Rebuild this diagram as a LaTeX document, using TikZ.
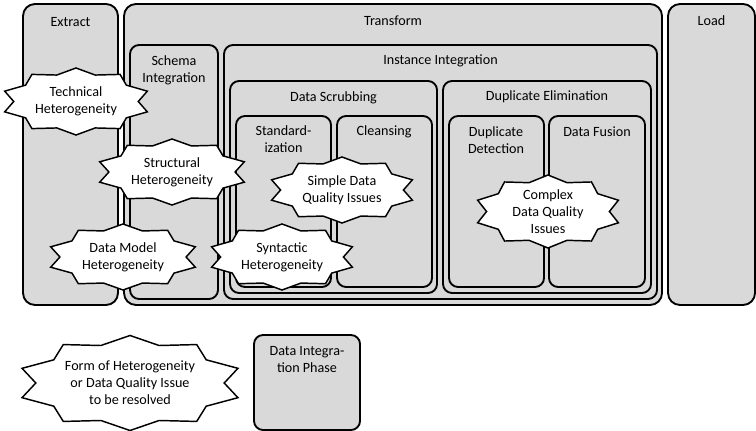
\documentclass[tikz,border=0pt]{standalone}
\usepackage{fontspec}
\setmainfont{Carlito}
\usetikzlibrary{fit}

\begin{document}
\begin{tikzpicture}[x = 0.75pt, y = -0.75pt]
\tikzstyle{PhaseStyle}=[
draw, line width = 1.4pt,
fill = black!15,
rounded corners = 9pt,
inner sep = 0pt]
\tikzstyle{StepStyle}=[PhaseStyle, rounded corners = 6.75pt]
\tikzstyle{LabelStyle}=[
align = center,
inner sep = 0pt,
font = \fontsize{10.6}{12.75}\selectfont]
\tikzstyle{StarStyle}=[
draw, line width = 1.1pt,
fill = white,
line join = miter]
\useasboundingbox (0,0) rectangle (756,431);
% phases
\node[PhaseStyle, fit = {(23,4) (118,305)}] (extract) {};
\node[PhaseStyle, fit = {(124,4) (662,305)}] (transform) {};
\node[PhaseStyle, fit = {(668,4) (755,305)}] (load) {};
\node[StepStyle, fit = {(130,45) (218,299)}] (schema) {};
\node[StepStyle, fit = {(224,45) (657,299)}] (instance) {};
\node[StepStyle, fit = {(230,81) (437,293)}] (scrubbing) {};
\node[StepStyle, fit = {(443,81) (651,293)}] (dupelim) {};
\node[StepStyle, fit = {(236,116) (331,287)}] (standard) {};
\node[StepStyle, fit = {(337,116) (432,287)}] (cleansing) {};
\node[StepStyle, fit = {(449,116) (544,287)}] (detection) {};
\node[StepStyle, fit = {(549,116) (645,287)}] (fusion) {};
\node[StepStyle, fit = {(254,335) (360,430)}] (legendbox) {};
% labels
\node[LabelStyle] (extractlbl) at (70.5,22) {Extract};
\node[LabelStyle] (transformlbl) at (393,21) {Transform};
\node[LabelStyle] (loadlbl) at (711.5,21) {Load};
\node[LabelStyle] (schemalbl) at (174,70) {Schema\\Integration};
\node[LabelStyle] (instancelbl) at (440.5,61) {Instance Integration};
\node[LabelStyle] (scrubbinglbl) at (333.5,98) {Data Scrubbing};
\node[LabelStyle] (dupelimlbl) at (547,97) {Duplicate Elimination};
\node[LabelStyle] (standardlbl) at (283.5,139.5) {Standard-\\ization};
\node[LabelStyle] (cleansinglbl) at (384,132) {Cleansing};
\node[LabelStyle] (detectionlbl) at (496,140.5) {Duplicate\\Detection};
\node[LabelStyle] (fusionlbl) at (597,132) {Data Fusion};
\node[LabelStyle] (legendboxlbl) at (307,360) {Data Integra-\\tion Phase};
% heterogeneities and quality issues
\foreach \name/\cx/\cy/\rx/\ry/\txt in {
  technical/76/101.5/75/33.5/{Technical\\Heterogeneity},
  structural/172/172/76/33/{Structural\\Heterogeneity},
  simple/342/190/74/33/{Simple Data\\Quality Issues},
  datamodel/123/257/76/33/{Data Model\\Heterogeneity},
  syntactic/282/257/74/33/{Syntactic\\Heterogeneity},
  complex/548/211.5/74/36.5/{Complex\\Data Quality\\Issues},
  legendstar/130/383/113.5/47.5/{Form of Heterogeneity\\or Data Quality Issue\\to be resolved}}
{
  \begin{scope}[shift = {(\cx,\cy)}]
  \draw[StarStyle] (0,{-\ry})
    \foreach \a in {0,...,9} {
      -- ({0.83*\rx*cos(108+36*\a)},{-0.83*\ry*sin(108+36*\a)})
      -- ({\rx*cos(126+36*\a)},{-\ry*sin(126+36*\a)})
    } -- cycle;
  \end{scope}
  \node[LabelStyle] (\name) at (\cx,\cy) {\txt};
}
\end{tikzpicture}
\end{document}
